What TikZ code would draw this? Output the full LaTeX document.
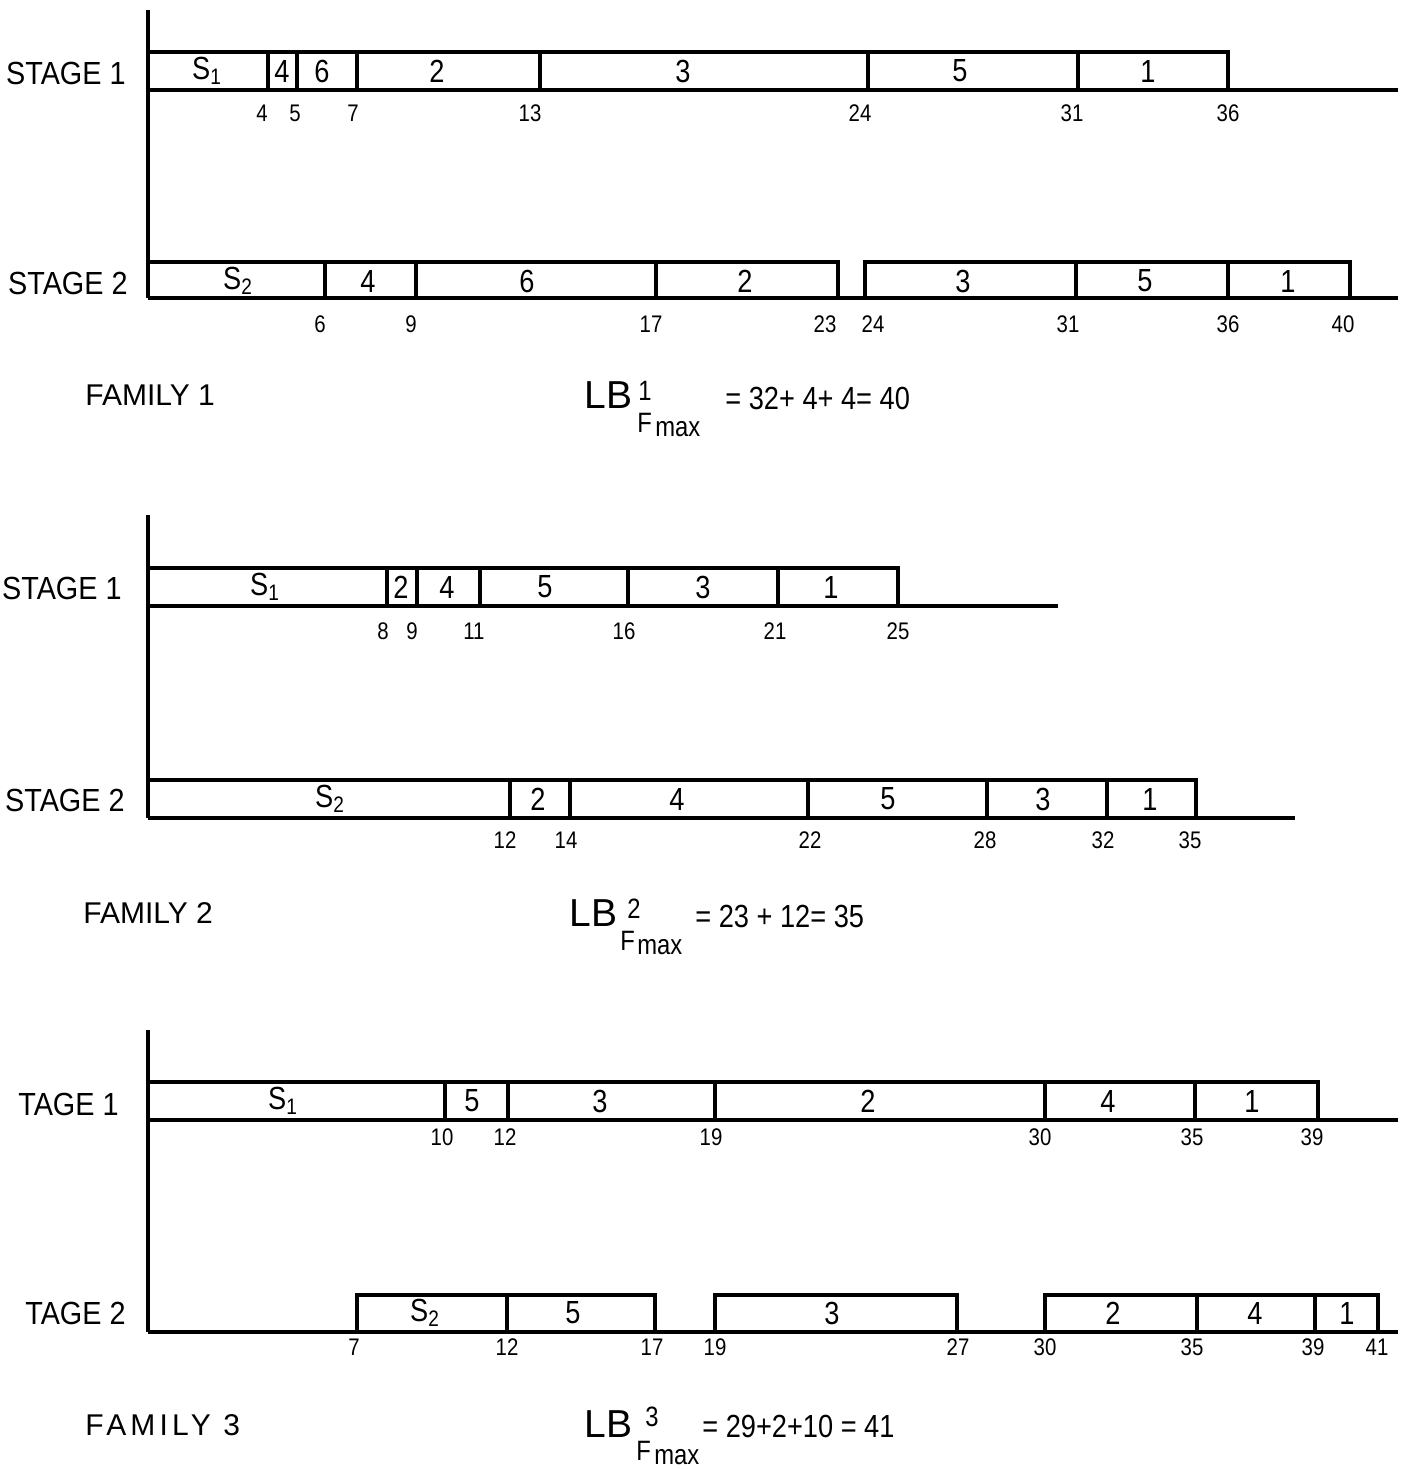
\documentclass[tikz,border=0pt]{standalone}
\usepackage{fontspec}
\setmainfont{Liberation Sans}
\newfontfamily\narrow{Liberation Sans}[FakeStretch=0.85]
\newfontfamily\stagefont{Liberation Sans}[FakeStretch=0.9]
\begin{document}
\begin{tikzpicture}[x=0.5pt, y=-0.5pt,
  bar/.style={line width=2.4pt},
  divider/.style={line width=2pt},
  axis/.style={line width=1.6pt},
  stagelab/.style={font=\stagefont\fontsize{16}{18}\selectfont, anchor=east, inner sep=0pt},
  joblab/.style={font=\narrow\fontsize{16}{18}\selectfont, inner sep=0pt},
  ticklab/.style={font=\narrow\fontsize{12}{14}\selectfont, inner sep=0pt},
  famlab/.style={font=\fontsize{15}{17}\selectfont, anchor=west, inner sep=0pt},
  lblab/.style={font=\fontsize{19.5}{21}\selectfont, inner sep=0pt},
  idxlab/.style={font=\narrow\fontsize{14}{16}\selectfont, inner sep=0pt},
  eqlab/.style={font=\narrow\fontsize{16}{18}\selectfont, anchor=west, inner sep=0pt}]
  \useasboundingbox (0,0) rectangle (1413,1469);
  \clip (0,0) rectangle (1413,1469);

  % family 1
  \draw[axis] (148,10) -- (148,298);
  \draw[bar]
   (148,90) -- (1398,90)   (148,52) -- (1228,52) -- (1228,90)
   (148,298) -- (1398,298)   (148,262) -- (838,262) -- (838,298)   (865,298) -- (865,262) -- (1350,262) -- (1350,298);
  \foreach \x in {268,297,357,540,868,1078}
    \draw[divider] (\x,52) -- (\x,90);
  \foreach \x in {325,416,656,1076,1228}
    \draw[divider] (\x,262) -- (\x,298);
  \node[stagelab] (f1s1) at (126,73) {STAGE 1};
  \node[stagelab] (f1s2) at (128,283) {STAGE 2};
  \foreach \x/\t [count=\i] in {207/S\textsubscript{1},282/4,322/6,437/2,683/3,960/5,1148/1}
    \node[joblab] (f1a\i) at (\x,71) {\t};
  \foreach \x/\t [count=\i] in {238/S\textsubscript{2},368/4,527/6,745/2,963/3,1145/5,1288/1}
    \node[joblab] (f1b\i) at (\x,281) {\t};
  \foreach \x/\t [count=\i] in {262/4,295/5,353/7,530/13,860/24,1072/31,1228/36}
    \node[ticklab] (f1c\i) at (\x,113) {\t};
  \foreach \x/\t [count=\i] in {320/6,411/9,651/17,825/23,873/24,1068/31,1228/36,1343/40}
    \node[ticklab] (f1d\i) at (\x,324) {\t};
  \node[famlab] (fam1) at (85,395) {FAMILY 1};
  \node[lblab, anchor=east] (lb1) at (633,395) {LB};
  \node[idxlab] (lb1n) at (645,391) {1};
  \node[idxlab, anchor=north west] (lb1f) at (637,413) {F};
  \node[idxlab, anchor=north west] (lb1m) at (655,421) {max};
  \node[eqlab] (lb1e) at (725,398) {= 32+ 4+ 4= 40};

  % family 2
  \draw[axis] (148,515) -- (148,818);
  \draw[bar]
   (148,606) -- (1058,606)   (148,568) -- (898,568) -- (898,606)
   (148,818) -- (1295,818)   (148,780) -- (1196,780) -- (1196,818);
  \foreach \x in {387,417,480,628,778}
    \draw[divider] (\x,568) -- (\x,606);
  \foreach \x in {510,570,808,987,1107}
    \draw[divider] (\x,780) -- (\x,818);
  \node[stagelab] (f2s1) at (122,588) {STAGE 1};
  \node[stagelab] (f2s2) at (125,800) {STAGE 2};
  \foreach \x/\t [count=\i] in {265/S\textsubscript{1},401/2,447/4,545/5,703/3,831/1}
    \node[joblab] (f2a\i) at (\x,587) {\t};
  \foreach \x/\t [count=\i] in {330/S\textsubscript{2},538/2,677/4,888/5,1043/3,1150/1}
    \node[joblab] (f2b\i) at (\x,799) {\t};
  \foreach \x/\t [count=\i] in {383/8,412/9,474/11,624/16,775/21,898/25}
    \node[ticklab] (f2c\i) at (\x,631) {\t};
  \foreach \x/\t [count=\i] in {505/12,566/14,810/22,985/28,1103/32,1190/35}
    \node[ticklab] (f2d\i) at (\x,840) {\t};
  \node[famlab] (fam2) at (83,913) {FAMILY 2};
  \node[lblab, anchor=east] (lb2) at (618,913) {LB};
  \node[idxlab] (lb2n) at (634,909) {2};
  \node[idxlab, anchor=north west] (lb2f) at (620,931) {F};
  \node[idxlab, anchor=north west] (lb2m) at (637,939) {max};
  \node[eqlab] (lb2e) at (695,916) {= 23 + 12= 35};

  % family 3
  \draw[axis] (148,1030) -- (148,1332);
  \draw[bar]
   (148,1120) -- (1398,1120)   (148,1082) -- (1318,1082) -- (1318,1120)
   (148,1332) -- (1398,1332)
   (357,1332) -- (357,1295) -- (655,1295) -- (655,1332)
   (715,1332) -- (715,1295) -- (957,1295) -- (957,1332)
   (1045,1332) -- (1045,1295) -- (1378,1295) -- (1378,1332);
  \foreach \x in {445,508,715,1045,1195}
    \draw[divider] (\x,1082) -- (\x,1120);
  \foreach \x in {507,1197,1315}
    \draw[divider] (\x,1295) -- (\x,1332);
  \node[stagelab] (f3s1) at (119,1104) {TAGE 1};
  \node[stagelab] (f3s2) at (126,1313) {TAGE 2};
  \foreach \x/\t [count=\i] in {283/S\textsubscript{1},472/5,600/3,868/2,1108/4,1252/1}
    \node[joblab] (f3a\i) at (\x,1101) {\t};
  \foreach \x/\t [count=\i] in {425/S\textsubscript{2},573/5,832/3,1113/2,1255/4,1347/1}
    \node[joblab] (f3b\i) at (\x,1313) {\t};
  \foreach \x/\t [count=\i] in {442/10,505/12,711/19,1040/30,1192/35,1312/39}
    \node[ticklab] (f3c\i) at (\x,1137) {\t};
  \foreach \x/\t [count=\i] in {354/7,507/12,652/17,715/19,958/27,1045/30,1192/35,1313/39,1377/41}
    \node[ticklab] (f3d\i) at (\x,1347) {\t};
  \node[famlab, font=\addfontfeature{LetterSpace=14}\fontsize{15}{17}\selectfont] (fam3) at (85,1425) {FAMILY 3};
  \node[lblab, anchor=east] (lb3) at (633,1424) {LB};
  \node[idxlab] (lb3n) at (652,1417) {3};
  \node[idxlab, anchor=north west] (lb3f) at (636,1441) {F};
  \node[idxlab, anchor=north west] (lb3m) at (654,1449) {max};
  \node[eqlab] (lb3e) at (702,1426) {= 29+2+10 = 41};
\end{tikzpicture}
\end{document}
